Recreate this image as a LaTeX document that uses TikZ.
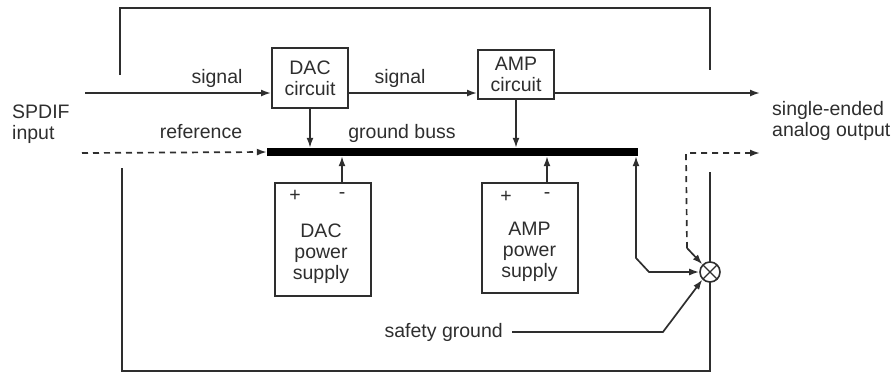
\documentclass[tikz,border=0pt]{standalone}
\usepackage{fontspec}
\setmainfont{Liberation Sans}
\usetikzlibrary{arrows.meta,calc}
\definecolor{ink}{HTML}{2E2E2E}
\begin{document}
\begin{tikzpicture}[x=1pt,y=-1pt,
  font=\fontsize{19.5}{21}\selectfont, text=ink,
  frame/.style={draw=ink,line width=2.2pt},
  box/.style={draw=ink,line width=2pt,inner sep=0pt,align=center},
  tip/.style={-{Latex[length=10pt,width=7pt]}},
  conn/.style={draw=ink,line width=1.7pt,tip},
  dsh/.style={dash pattern=on 6pt off 5pt},
  lbl/.style={inner sep=0pt,anchor=base},
  sym/.style={inner sep=0pt}
]
\useasboundingbox (0,0) rectangle (895,373);

% enclosure
\draw[frame] (120,75) -- (120,8) -- (710,8) -- (710,70);
\draw[frame] (122,168) -- (122,371) -- (710,371) -- (710,172);

% blocks
\node[box,minimum width=76pt,minimum height=60pt] (dac) at (310,78) {DAC\\circuit};
\node[box,minimum width=76pt,minimum height=49pt] (amp) at (516,74.5) {AMP\\circuit};
\node[fill=black,inner sep=0pt,minimum width=371pt,minimum height=8pt] (bus) at (452.5,152) {};
\node[box,minimum width=96pt,minimum height=113pt] (dacps) at (323,239.5) {};
\node[box,minimum width=96pt,minimum height=110pt] (ampps) at (530,238) {};
\node[align=center,inner sep=0pt] (dacpst) at (321,254) {DAC\\power\\supply};
\node[align=center,inner sep=0pt] (amppst) at (529.5,251.5) {AMP\\power\\supply};
\node[sym] (dacplus) at (295,196) {+};
\node[sym] (dacminus) at (342,196) {-};
\node[sym] (ampplus) at (506,197) {+};
\node[sym] (ampminus) at (547,196) {-};
\node[draw=ink,line width=1.6pt,fill=white,circle,inner sep=0pt,minimum size=20pt,
  path picture={\draw[ink,line width=1.3pt]
    (path picture bounding box.north west) -- (path picture bounding box.south east)
    (path picture bounding box.north east) -- (path picture bounding box.south west);}]
  (cross) at (710,272) {};

% labels
\node[lbl] (sig1) at (217,83) {signal};
\node[lbl] (sig2) at (400,83) {signal};
\node[lbl] (refl) at (201,138) {reference};
\node[lbl] (gbl) at (402,138) {ground buss};
\node[anchor=north west,inner sep=0pt,align=left] (spdif) at (12,105) {SPDIF\\input};
\node[anchor=north west,inner sep=0pt,align=left] (outl) at (772,101) {single-ended\\analog output};
\node[inner sep=0pt,anchor=base east] (sg) at (503,337) {safety ground};

% coordinates
\coordinate (sin) at (85,93);
\coordinate (sout) at (760,93);
\coordinate (refin) at (82,153);
\coordinate (rd) at (686,153);
\coordinate (rout) at (760,153);
\coordinate (rdb) at (687,248);
\coordinate (k1) at (636,258);
\coordinate (k2) at (649,272);
\coordinate (s1) at (654,333);

% signal path
\draw[conn] (sin) -- (sin -| dac.west);
\draw[conn] (sin -| dac.east) -- (sin -| amp.west);
\draw[conn] (sin -| amp.east) -- (sout);

% ground connections
\draw[conn] (dac.south) -- (dac.south |- bus.north);
\draw[conn] (amp.south) -- (amp.south |- bus.north);
\draw[conn] (dacminus |- dacps.north) -- (dacminus |- bus.south);
\draw[conn] (ampminus |- ampps.north) -- (ampminus |- bus.south);
\draw[conn,dsh] (refin) -- (bus.west);
\draw[conn,dsh] (rdb) -- (rd) -- (rout);
\draw[conn] (rdb) -- (cross.north west);
\draw[draw=ink,line width=1.7pt,{Latex[length=10pt,width=7pt]}-{Latex[length=10pt,width=7pt]}]
  (k1 |- bus.south) -- (k1) -- (k2) -- (cross.west);
\draw[conn] ([xshift=9pt]sg.east) -- ([xshift=9pt]sg.east -| s1) -- (cross.south west);
\end{tikzpicture}
\end{document}
